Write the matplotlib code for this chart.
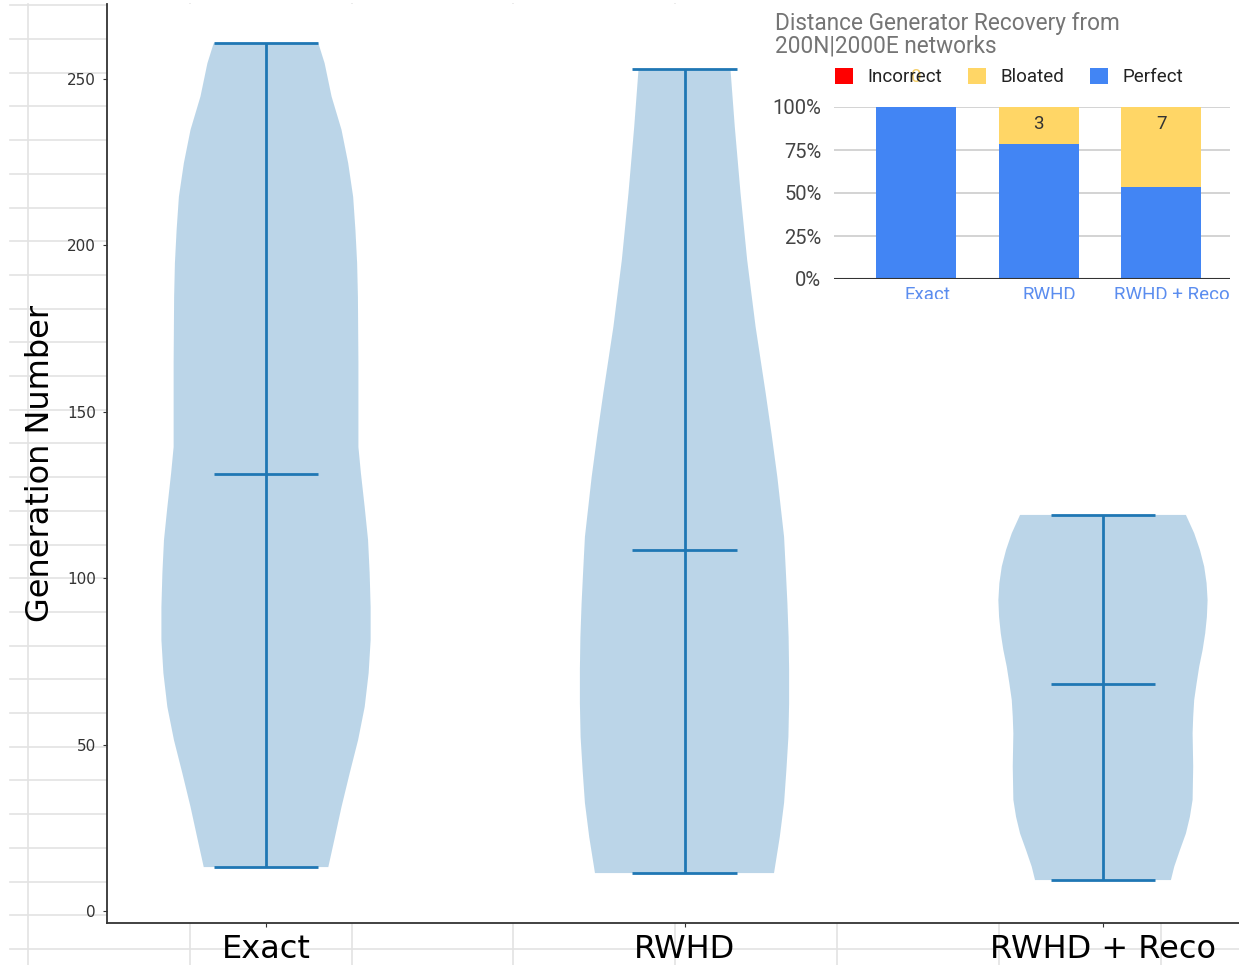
import numpy as np
import matplotlib.pyplot as plt
from matplotlib.lines import Line2D
from matplotlib.patches import Patch, Rectangle

W, H = 1239, 965

# main violin chart
labels = ['Exact', 'RWHD', 'RWHD + Reco']
positions = [1, 2, 3]

# violin outlines: value levels and relative density (half width)
exact_y = [260.7, 254.7, 244.7, 234.7, 224.7, 214.6, 204.6, 194.7, 184.5, 164.7, 139.4, 131.6,
           121.4, 111.5, 101.6, 91.3, 81.4, 71.5, 61.3, 51.4, 41.5, 31.3, 21.3, 13.2]
exact_d = [52.7, 59, 66, 76, 82.7, 87.7, 90, 91.7, 92.5, 93, 93, 95.5,
           99.3, 102.7, 104.3, 105.3, 105.3, 103.3, 99.3, 92.7, 84.3, 76, 68.7, 62.7]
rwhd_y = [252.9, 235.6, 215.7, 195.6, 175.5, 155.6, 143.0, 130.4, 112.4, 102.4, 92.5, 82.3,
          72.4, 62.5, 52.3, 42.4, 32.5, 22.2, 11.4]
rwhd_d = [45.7, 50, 55.7, 62.3, 70.7, 80.7, 86.7, 92.3, 99, 100.7, 102.3, 103.5,
          104, 104, 103.3, 101.3, 99, 94.7, 89]
reco_y = [119.0, 113.5, 108.5, 103.5, 98.5, 93.4, 88.4, 83.4, 78.4, 73.4, 68.4, 63.4, 58.4,
          53.4, 43.4, 33.4, 28.3, 23.3, 18.3, 13.3, 9.3]
reco_d = [83, 91.3, 97, 101.3, 103.7, 104.7, 104, 102.3, 99.7, 96.3, 93.7, 91.3, 90.3,
          89.7, 90.3, 89.7, 87, 83, 77, 71.3, 68]
medians = [131.2, 108.5, 68.2]

# inset bar chart
inset_cats = ['Exact', 'RWHD', 'RWHD + Reco']
incorrect = [0, 0, 0]
bloated = [0, 3, 7]
perfect = [14, 11, 8]


def px_rect(x0, y0, x1, y1):
    return [x0 / W, 1 - y1 / H, (x1 - x0) / W, (y1 - y0) / H]


fig = plt.figure(figsize=(W / 100, H / 100), dpi=100)
fig.patch.set_facecolor('white')

# spreadsheet grid behind the pasted chart
for k in range(-1, 28):
    yy = 1 - (39 + 33.7 * k) / H
    fig.add_artist(Line2D([10 / W, 1], [yy, yy], transform=fig.transFigure,
                          color='#e3e3e3', lw=1.2, zorder=-1))
for k in range(8):
    xx = (28 + 161.8 * k) / W
    fig.add_artist(Line2D([xx, xx], [0, 1 - 4 / H], transform=fig.transFigure,
                          color='#e3e3e3', lw=1.2, zorder=-1))

ax = fig.add_axes(px_rect(107, 4, 1262, 923))
ax.set_facecolor('white')

vpstats = []
for ys, ds, med in zip([exact_y, rwhd_y, reco_y], [exact_d, rwhd_d, reco_d], medians):
    ys = np.array(ys)
    vpstats.append(dict(coords=ys, vals=np.array(ds, dtype=float), mean=np.mean(ys),
                        median=med, min=ys.min(), max=ys.max()))

parts = ax.violin(vpstats, positions=positions, widths=0.5, showmedians=True)
for body in parts['bodies']:
    body.set_facecolor('#1f77b4')
    body.set_edgecolor('none')
    body.set_alpha(0.3)
for key in ['cmaxes', 'cmins', 'cbars', 'cmedians']:
    parts[key].set_color('#1f77b4')
    parts[key].set_linewidth(2.0)

ax.set_xlim(0.62, 3.38)
ax.set_ylim(-3.6, 272.5)
ax.set_xticks(positions, labels, fontsize=23)
ax.set_yticks([0, 50, 100, 150, 200, 250])
ax.tick_params(axis='y', labelsize=11, length=3, pad=5, color='#333333', labelcolor='#333333')
ax.tick_params(axis='x', length=3, pad=5, color='#333333')
ax.set_ylabel('Generation Number', fontsize=23, labelpad=8)
for side in ['top', 'right']:
    ax.spines[side].set_visible(False)
for side in ['left', 'bottom']:
    ax.spines[side].set_color('#333333')
    ax.spines[side].set_linewidth(1.3)

# inset google-sheets style chart
bg = Rectangle((757 / W, 1 - 301 / H), (W - 757) / W, 301 / H, transform=fig.transFigure,
               facecolor='white', edgecolor='none', zorder=1)
fig.add_artist(bg)
clip = Rectangle((757 / W, 1 - 299 / H), (1230 - 757) / W, 299 / H, transform=fig.transFigure)

ax_in = fig.add_axes(px_rect(834, 107, 1230, 279))
ax_in.set_zorder(2)
ax_in.set_facecolor('none')

totals = np.array(incorrect) + np.array(bloated) + np.array(perfect)
p_frac = np.array(perfect) / totals
b_frac = np.array(bloated) / totals
i_frac = np.array(incorrect) / totals
xs = np.arange(len(inset_cats))
ax_in.bar(xs, p_frac, width=0.65, color='#4285f4', zorder=2)
ax_in.bar(xs, b_frac, bottom=p_frac, width=0.65, color='#ffd666', zorder=2)
ax_in.bar(xs, i_frac, bottom=p_frac + b_frac, width=0.65, color='#ff0000', zorder=2)

for x, b in zip(xs, bloated):
    if b > 0:
        ax_in.annotate(str(b), xy=(x, 1.0), xytext=(0, -17), textcoords='offset pixels',
                       ha='center', va='center', fontsize=13.5, family='Roboto', color='#333333')
# stray "0" label of the Exact bloated segment
ax_in.annotate(str(bloated[0]), xy=(xs[0], 1.0), xytext=(0, 30), textcoords='offset pixels',
               ha='center', va='center', fontsize=13.5, family='Roboto', color='#f5cf6a',
               annotation_clip=False, zorder=6)

ax_in.set_xlim(-0.67, 2.56)
ax_in.set_ylim(0, 1)
ax_in.set_yticks([0, 0.25, 0.5, 0.75, 1.0], ['0%', '25%', '50%', '75%', '100%'],
                 fontfamily='Roboto')
ax_in.tick_params(axis='y', length=0, pad=9, labelsize=14.5, labelcolor='#444444')
ax_in.set_xticks([])
ax_in.grid(axis='y', color='#cccccc', lw=1.2)
ax_in.set_axisbelow(True)
ax_in.axhline(0, color='#333333', lw=1.5, zorder=3)
for s in ax_in.spines.values():
    s.set_visible(False)

for x, name in zip(xs, inset_cats):
    t = ax_in.annotate(name, xy=(x, -0.04), xycoords=ax_in.get_xaxis_transform(),
                       xytext=(11, 0), textcoords='offset pixels', ha='center', va='top',
                       fontsize=13.5, family='Roboto', color='#5b8def', annotation_clip=False)
    t.set_clip_on(True)
    t.set_clip_path(clip)

fig.text(775 / W, 1 - 12 / H, 'Distance Generator Recovery from\n200N|2000E networks',
         ha='left', va='top', fontsize=16.3, family='Roboto', color='#757575',
         linespacing=0.95, zorder=3)

handles = [Patch(facecolor='#ff0000', lw=0), Patch(facecolor='#ffd666', lw=0),
           Patch(facecolor='#4285f4', lw=0)]
fig.legend(handles, ['Incorrect', 'Bloated', 'Perfect'], ncol=3, loc='center left',
           bbox_to_anchor=(835 / W, 1 - 77 / H), frameon=False, handlelength=0.96,
           handleheight=0.96, handletextpad=0.75, columnspacing=1.4, borderpad=0,
           borderaxespad=0, prop=dict(family='Roboto', size=13.5), labelcolor='#222222')

fig.savefig('out.png', dpi=100, facecolor='white')
